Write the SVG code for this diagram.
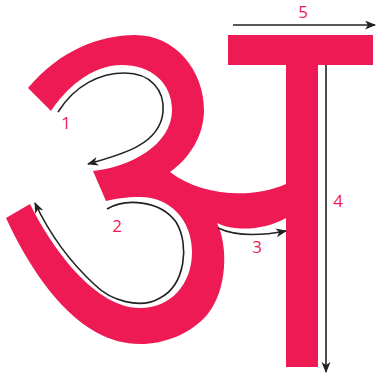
<svg xmlns="http://www.w3.org/2000/svg" width="376" height="381" viewBox="0 0 376 381">
<defs>
<style>
.pink{fill:#EE1A54;}
.arr{fill:none;stroke:#222;stroke-width:1.6;marker-end:url(#ah);}
.lbl{fill:#EE1A54;font-family:"Open Sans","DejaVu Sans",sans-serif;font-size:17px;text-anchor:middle;}
</style>
<marker id="ah" markerUnits="userSpaceOnUse" markerWidth="12" markerHeight="10" refX="10" refY="4.5" orient="auto">
<path d="M0,0 L11,4.5 L0,9 L3,4.5 Z" fill="#222"/>
</marker>
</defs>
<g id="letter">
<path class="pink" d="M 28,88 C 60,50 100,35 135,35 C 175,35 204,70 204,110 C 204,135 190,158 170,172 C 200,195 250,200 286,184 L 286,218 C 265,230 235,232 217,223 C 228,245 228,290 207,315 C 190,334 165,344 140,344 C 80,344 35,280 6,218 L 30,204 C 45,235 90,308 140,308 C 170,308 192,285 192,252 C 192,220 170,197 140,197 C 125,197 115,199 106,201 L 93,171 C 130,167 172,145 172,110 C 172,82 150,65 122,65 C 90,65 65,90 51,111 Z"/>
<rect class="pink" x="228" y="35" width="145" height="30"/>
<rect class="pink" x="286" y="64" width="32" height="303"/>
</g>
<g id="connectors">
<path class="arr" d="M 58,112 C 75,85 100,73 125,73 C 150,73 165,90 163,112 C 160,145 120,155 88,164"/>
<path class="arr" d="M 107,209 C 125,198 160,200 176,222 C 190,245 185,285 160,298 C 140,310 110,300 95,285 C 70,262 50,235 35,203"/>
<path class="arr" d="M 218,228 C 235,236 260,236 286,231"/>
<path class="arr" d="M 326,65 L 326,372"/>
<path class="arr" d="M 233,25 L 375,25"/>
</g>
<g id="labels">
<text class="lbl" x="66" y="129">1</text>
<text class="lbl" x="117" y="232">2</text>
<text class="lbl" x="257" y="253">3</text>
<text class="lbl" x="338" y="207">4</text>
<text class="lbl" x="303" y="18">5</text>
</g>
</svg>
